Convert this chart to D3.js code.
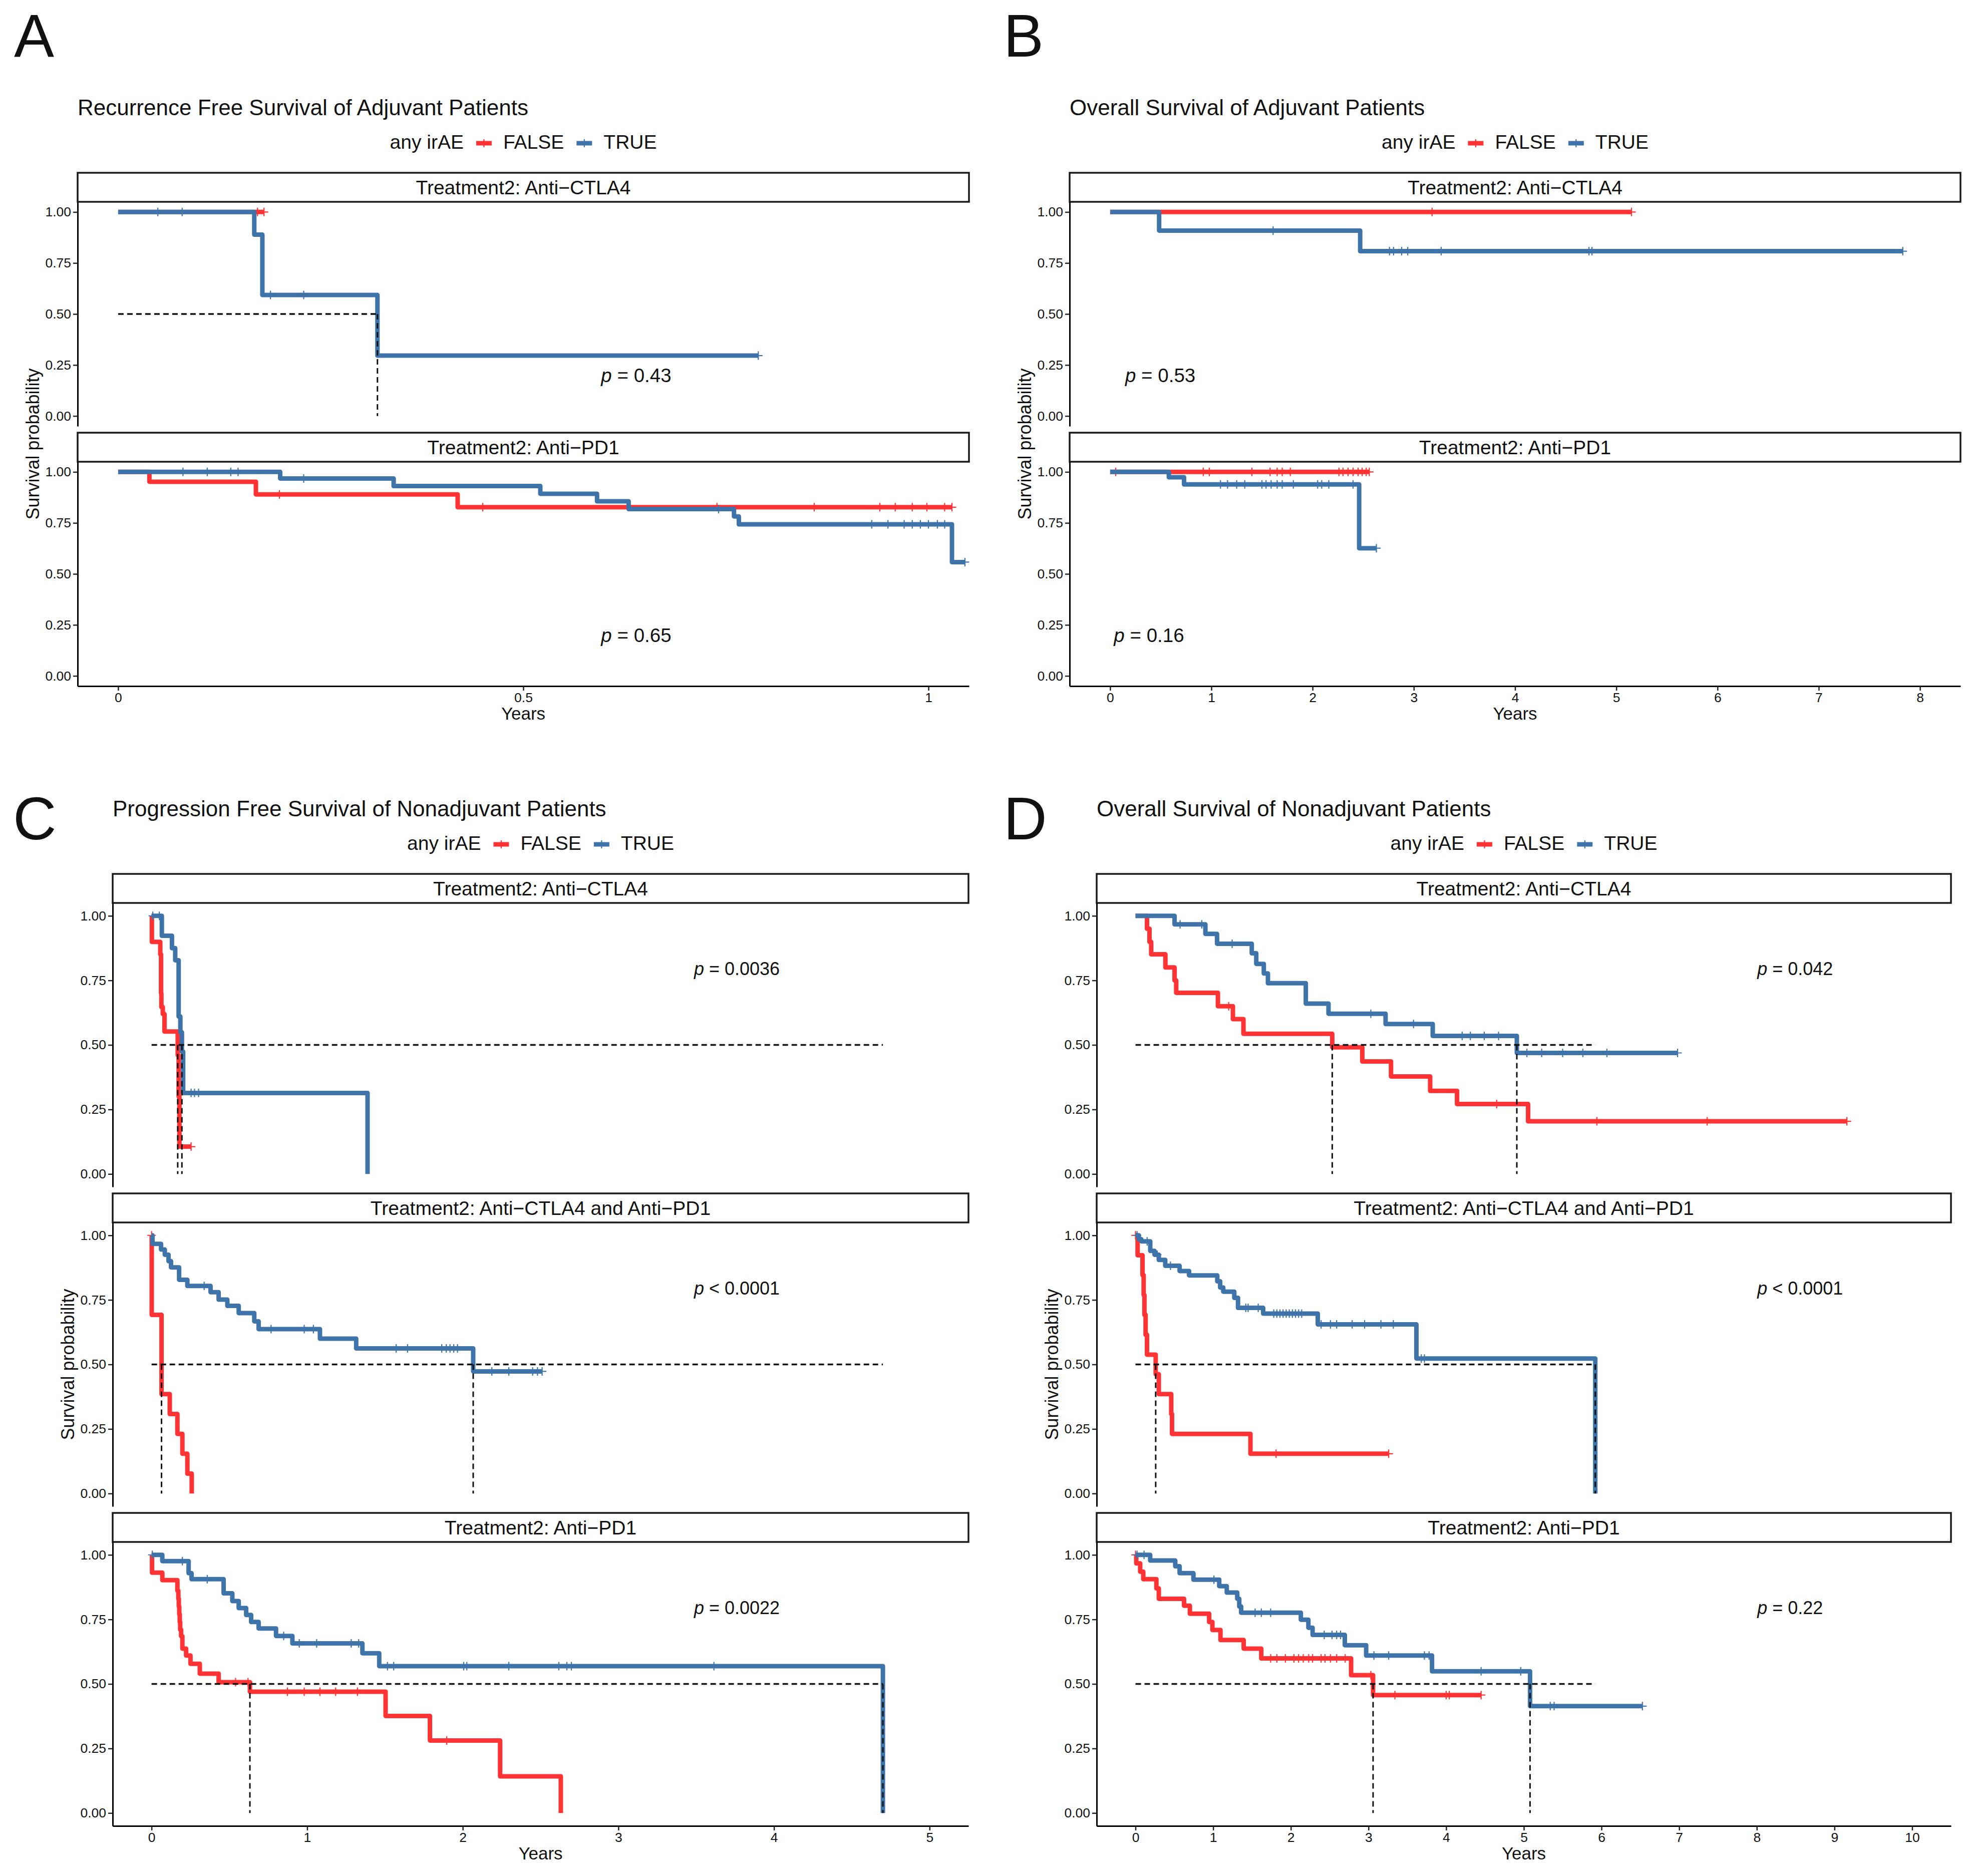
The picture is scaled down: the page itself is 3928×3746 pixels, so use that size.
<!DOCTYPE html>
<html>
<head>
<meta charset="utf-8">
<script src="https://cdn.jsdelivr.net/npm/d3@7"></script>
<style>
  body { margin: 0; background: #fff; }
  text { font-family: "Liberation Sans", Arial, Helvetica, sans-serif; fill: #111; }
</style>
</head>
<body>
<div id="chart"></div>
<script>
// Kaplan-Meier curves: steps are [years, survival], cens = censor times

// A: recurrence free survival, adjuvant
var rfsAdjCtla4FalseSteps = [[0, 1]];
var rfsAdjCtla4FalseCens = [0.172, 0.18];
var rfsAdjCtla4TrueSteps = [[0, 1], [0.168, 0.889], [0.178, 0.593], [0.32, 0.296]];
var rfsAdjCtla4TrueCens = [0.049, 0.079, 0.188, 0.229, 0.79];

var rfsAdjPd1FalseSteps = [[0, 1], [0.0386, 0.952], [0.170, 0.890], [0.419, 0.827]];
var rfsAdjPd1FalseCens = [0.199, 0.450, 0.739, 0.859, 0.940, 0.959, 0.980, 0.998, 1.020, 1.029];
var rfsAdjPd1TrueSteps = [[0, 1], [0.200, 0.968], [0.340, 0.931], [0.521, 0.893], [0.591, 0.856],
  [0.630, 0.818], [0.760, 0.782], [0.766, 0.743], [1.029, 0.558]];
var rfsAdjPd1TrueCens = [0.080, 0.110, 0.139, 0.148, 0.229, 0.741, 0.930, 0.950, 0.970, 0.980,
  0.990, 1.000, 1.011, 1.020, 1.045];

// B: overall survival, adjuvant
var osAdjCtla4FalseSteps = [[0, 1]];
var osAdjCtla4FalseCens = [3.18, 5.15];
var osAdjCtla4TrueSteps = [[0, 1], [0.484, 0.909], [2.47, 0.808]];
var osAdjCtla4TrueCens = [1.61, 2.76, 2.80, 2.88, 2.94, 3.27, 4.73, 4.76, 7.83];

var osAdjPd1FalseSteps = [[0, 1]];
var osAdjPd1FalseCens = [0.055, 0.92, 0.98, 1.40, 1.58, 1.65, 1.70, 1.78, 2.26, 2.30, 2.35,
  2.40, 2.45, 2.49, 2.53, 2.56];
var osAdjPd1TrueSteps = [[0, 1], [0.58, 0.974], [0.73, 0.939], [2.46, 0.626]];
var osAdjPd1TrueCens = [1.09, 1.16, 1.25, 1.33, 1.50, 1.54, 1.59, 1.65, 1.70, 1.81, 2.05, 2.09,
  2.16, 2.40, 2.63];

// C: progression free survival, nonadjuvant
var pfsNonCtla4FalseSteps = [[0, 1], [0.002, 0.899], [0.056, 0.851], [0.061, 0.70], [0.063, 0.647],
  [0.072, 0.62], [0.083, 0.552], [0.168, 0.46], [0.174, 0.30], [0.179, 0.106]];
var pfsNonCtla4FalseCens = [0.254];
var pfsNonCtla4TrueSteps = [[0, 1], [0.066, 0.923], [0.131, 0.875], [0.152, 0.828], [0.174, 0.61],
  [0.185, 0.549], [0.195, 0.474], [0.203, 0.314], [1.388, 0]];
var pfsNonCtla4TrueCens = [0.008, 0.05, 0.254, 0.276, 0.302];

var pfsNonComboFalseSteps = [[0, 1], [0.001, 0.692], [0.064, 0.385], [0.117, 0.308], [0.166, 0.231],
  [0.198, 0.154], [0.23, 0.077], [0.258, 0]];
var pfsNonComboFalseCens = [0];
var pfsNonComboTrueSteps = [[0, 1], [0.006, 0.967], [0.061, 0.945], [0.085, 0.925], [0.109, 0.90],
  [0.125, 0.876], [0.177, 0.828], [0.23, 0.804], [0.379, 0.78], [0.431, 0.751], [0.487, 0.727],
  [0.56, 0.699], [0.66, 0.667], [0.688, 0.637], [1.082, 0.600], [1.315, 0.562], [2.067, 0.473]];
var pfsNonComboTrueCens = [0.338, 0.768, 0.981, 1.04, 1.572, 1.645, 1.865, 1.894, 1.918, 1.942,
  1.966, 2.187, 2.296, 2.449, 2.48, 2.51];

var pfsNonPd1FalseSteps = [[0, 1], [0.003, 0.931], [0.069, 0.902], [0.166, 0.861], [0.172, 0.83],
  [0.175, 0.80], [0.178, 0.77], [0.181, 0.74], [0.184, 0.71], [0.19, 0.685], [0.198, 0.637],
  [0.222, 0.610], [0.25, 0.578], [0.31, 0.54], [0.431, 0.507], [0.632, 0.47], [1.504, 0.376],
  [1.789, 0.281], [2.24, 0.142], [2.63, 0]];
var pfsNonPd1FalseCens = [0.54, 0.62, 0.873, 0.981, 1.082, 1.183, 1.323, 1.897];
var pfsNonPd1TrueSteps = [[0, 1], [0.069, 0.976], [0.238, 0.929], [0.257, 0.906], [0.463, 0.851],
  [0.519, 0.821], [0.56, 0.794], [0.608, 0.767], [0.64, 0.74], [0.688, 0.715], [0.80, 0.686],
  [0.905, 0.657], [1.355, 0.619], [1.463, 0.569], [4.70, 0]];
var pfsNonPd1TrueCens = [0.005, 0.198, 0.358, 0.849, 0.949, 1.061, 1.283, 1.331, 1.516, 1.556,
  2.006, 2.026, 2.296, 2.617, 2.669, 2.698, 3.614];

// D: overall survival, nonadjuvant
var osNonCtla4FalseSteps = [[0, 1], [0.148, 0.950], [0.18, 0.899], [0.202, 0.851], [0.385, 0.80],
  [0.503, 0.75], [0.524, 0.702], [1.061, 0.65], [1.254, 0.60], [1.39, 0.543], [2.533, 0.491],
  [2.92, 0.436], [3.29, 0.378], [3.794, 0.322], [4.14, 0.271], [5.055, 0.204]];
var osNonCtla4FalseCens = [1.20, 4.65, 5.94, 7.36, 9.16];
var osNonCtla4TrueSteps = [[0, 1], [0.503, 0.967], [0.90, 0.930], [1.05, 0.892], [1.497, 0.855],
  [1.555, 0.814], [1.652, 0.777], [1.705, 0.739], [2.193, 0.660], [2.485, 0.621], [3.22, 0.581],
  [3.827, 0.535], [4.91, 0.469]];
var osNonCtla4TrueCens = [0.574, 0.853, 1.244, 3.03, 3.58, 4.206, 4.312, 4.49, 4.675, 5.04, 5.23,
  5.50, 5.76, 6.07, 6.98];

var osNonComboFalseSteps = [[0, 1], [0.027, 0.923], [0.09, 0.846], [0.105, 0.769], [0.115, 0.692],
  [0.13, 0.615], [0.148, 0.538], [0.26, 0.462], [0.30, 0.385], [0.46, 0.308], [0.47, 0.231],
  [1.48, 0.154]];
var osNonComboFalseCens = [0, 1.81, 3.26];
var osNonComboTrueSteps = [[0, 1], [0.043, 0.985], [0.075, 0.977], [0.19, 0.94], [0.245, 0.925],
  [0.30, 0.905], [0.383, 0.882], [0.568, 0.862], [0.69, 0.845], [1.053, 0.822], [1.09, 0.798],
  [1.13, 0.782], [1.272, 0.758], [1.32, 0.719], [1.644, 0.697], [2.347, 0.655], [3.617, 0.523],
  [5.92, 0]];
var osNonComboTrueCens = [0.02, 0.15, 0.28, 0.45, 1.42, 1.45, 1.58, 1.78, 1.82, 1.86, 1.90, 1.94,
  1.98, 2.02, 2.06, 2.10, 2.14, 2.39, 2.51, 2.59, 2.79, 2.95, 3.16, 3.32, 3.68, 3.72];

var osNonPd1FalseSteps = [[0, 1], [0.01, 0.967], [0.06, 0.935], [0.10, 0.906], [0.269, 0.87],
  [0.30, 0.83], [0.625, 0.803], [0.70, 0.772], [0.948, 0.74], [0.99, 0.709], [1.094, 0.67],
  [1.393, 0.637], [1.619, 0.599], [2.776, 0.534], [3.059, 0.457]];
var osNonPd1FalseCens = [0, 1.74, 1.82, 1.93, 2.04, 2.10, 2.16, 2.23, 2.28, 2.39, 2.44, 2.51,
  2.59, 2.70, 3.03, 3.34, 4.00, 4.04, 4.45];
var osNonPd1TrueSteps = [[0, 1], [0.189, 0.978], [0.512, 0.956], [0.568, 0.929], [0.746, 0.904],
  [1.078, 0.879], [1.175, 0.854], [1.31, 0.83], [1.336, 0.80], [1.36, 0.776], [2.129, 0.749],
  [2.226, 0.718], [2.28, 0.69], [2.695, 0.65], [2.97, 0.61], [3.818, 0.549], [5.08, 0.414]];
var osNonPd1TrueCens = [0.02, 0.11, 1.01, 1.54, 1.62, 1.74, 2.43, 2.53, 2.59, 2.64, 3.07, 3.26,
  3.72, 3.78, 4.45, 4.96, 5.34, 5.39, 6.527];

// labels and ticks
var groups = ["FALSE", "TRUE"];
var legendTitle = "any irAE";
var stripsAdj = ["Treatment2: Anti\u2212CTLA4", "Treatment2: Anti\u2212PD1"];
var stripsNon = ["Treatment2: Anti\u2212CTLA4", "Treatment2: Anti\u2212CTLA4 and Anti\u2212PD1",
  "Treatment2: Anti\u2212PD1"];
var pvalsA = ["= 0.43", "= 0.65"];
var pvalsB = ["= 0.53", "= 0.16"];
var pvalsC = ["= 0.0036", "< 0.0001", "= 0.0022"];
var pvalsD = ["= 0.042", "< 0.0001", "= 0.22"];
var yTicks = [0, 0.25, 0.5, 0.75, 1];
var yTickLabels = ["0.00", "0.25", "0.50", "0.75", "1.00"];
var xTicksA = [0, 0.5, 1];
var xTickLabelsA = ["0", "0.5", "1"];
var xTicksB = [0, 1, 2, 3, 4, 5, 6, 7, 8];
var xTicksC = [0, 1, 2, 3, 4, 5];
var xTicksD = [0, 1, 2, 3, 4, 5, 6, 7, 8, 9, 10];

var COLORS = ["#FF3333", "#3E74A9"];

var svg = d3.select("#chart")
  .append("svg")
  .attr("width", 3928)
  .attr("height", 3746);

svg.append("rect").attr("width", 3928).attr("height", 3746).attr("fill", "#fff");

// layout of the four figures
var figures = [
  {
    letter: "A", letterX: 28, letterY: 113,
    title: "Recurrence Free Survival of Adjuvant Patients",
    left: 155, right: 1935, top: 345, panelH: 448,
    xDomain: [-0.05, 1.05], xTicks: xTicksA, xLabels: xTickLabelsA,
    pvalSize: 38.5,
    facets: [
      { strip: stripsAdj[0], pval: pvalsA[0], pvalAt: [0.596, 0.167],
        curves: [{ steps: rfsAdjCtla4FalseSteps, cens: rfsAdjCtla4FalseCens },
                 { steps: rfsAdjCtla4TrueSteps, cens: rfsAdjCtla4TrueCens }] },
      { strip: stripsAdj[1], pval: pvalsA[1], pvalAt: [0.596, 0.167],
        curves: [{ steps: rfsAdjPd1FalseSteps, cens: rfsAdjPd1FalseCens },
                 { steps: rfsAdjPd1TrueSteps, cens: rfsAdjPd1TrueCens }] }
    ]
  },
  {
    letter: "B", letterX: 2004, letterY: 113,
    title: "Overall Survival of Adjuvant Patients",
    left: 2136, right: 3915, top: 345, panelH: 448,
    xDomain: [-0.4, 8.4], xTicks: xTicksB, xLabels: null,
    pvalSize: 38.5,
    facets: [
      { strip: stripsAdj[0], pval: pvalsB[0], pvalAt: [0.149, 0.167],
        curves: [{ steps: osAdjCtla4FalseSteps, cens: osAdjCtla4FalseCens },
                 { steps: osAdjCtla4TrueSteps, cens: osAdjCtla4TrueCens }] },
      { strip: stripsAdj[1], pval: pvalsB[1], pvalAt: [0.037, 0.167],
        curves: [{ steps: osAdjPd1FalseSteps, cens: osAdjPd1FalseCens },
                 { steps: osAdjPd1TrueSteps, cens: osAdjPd1TrueCens }] }
    ]
  },
  {
    letter: "C", letterX: 26, letterY: 1676,
    title: "Progression Free Survival of Nonadjuvant Patients",
    left: 225, right: 1934, top: 1745, panelH: 567,
    xDomain: [-0.25, 5.25], xTicks: xTicksC, xLabels: null,
    pvalSize: 36,
    facets: [
      { strip: stripsNon[0], pval: pvalsC[0], pvalAt: [3.486, 0.771],
        curves: [{ steps: pfsNonCtla4FalseSteps, cens: pfsNonCtla4FalseCens },
                 { steps: pfsNonCtla4TrueSteps, cens: pfsNonCtla4TrueCens }] },
      { strip: stripsNon[1], pval: pvalsC[1], pvalAt: [3.486, 0.771],
        curves: [{ steps: pfsNonComboFalseSteps, cens: pfsNonComboFalseCens },
                 { steps: pfsNonComboTrueSteps, cens: pfsNonComboTrueCens }] },
      { strip: stripsNon[2], pval: pvalsC[2], pvalAt: [3.486, 0.771],
        curves: [{ steps: pfsNonPd1FalseSteps, cens: pfsNonPd1FalseCens },
                 { steps: pfsNonPd1TrueSteps, cens: pfsNonPd1TrueCens }] }
    ]
  },
  {
    letter: "D", letterX: 2004, letterY: 1676,
    title: "Overall Survival of Nonadjuvant Patients",
    left: 2190, right: 3896, top: 1745, panelH: 567,
    xDomain: [-0.5, 10.5], xTicks: xTicksD, xLabels: null,
    pvalSize: 36,
    facets: [
      { strip: stripsNon[0], pval: pvalsD[0], pvalAt: [8.006, 0.771],
        curves: [{ steps: osNonCtla4FalseSteps, cens: osNonCtla4FalseCens },
                 { steps: osNonCtla4TrueSteps, cens: osNonCtla4TrueCens }] },
      { strip: stripsNon[1], pval: pvalsD[1], pvalAt: [8.006, 0.771],
        curves: [{ steps: osNonComboFalseSteps, cens: osNonComboFalseCens },
                 { steps: osNonComboTrueSteps, cens: osNonComboTrueCens }] },
      { strip: stripsNon[2], pval: pvalsD[2], pvalAt: [8.006, 0.771],
        curves: [{ steps: osNonPd1FalseSteps, cens: osNonPd1FalseCens },
                 { steps: osNonPd1TrueSteps, cens: osNonPd1TrueCens }] }
    ]
  }
];

var STRIP_H = 58, GAP = 13;

// survival at time t on a step curve
function survAt(steps, t) {
  var s = steps[0][1];
  steps.forEach(function(d) { if (d[0] <= t) s = d[1]; });
  return s;
}

// first time survival falls to 0.5 or below
function medianOf(steps) {
  for (var i = 0; i < steps.length; i++) {
    if (steps[i][1] <= 0.5) return steps[i][0];
  }
  return null;
}

function plusPath(px, py, r) {
  return "M" + (px - r) + "," + py + "H" + (px + r) + "M" + px + "," + (py - r) + "V" + (py + r);
}

function drawLegend(g, fig) {
  var lg = g.append("g");
  var cx = 0;
  var t = lg.append("text").attr("x", cx).attr("y", 0).style("font-size", "39px").text(legendTitle);
  cx += t.node().getComputedTextLength() + 25;
  groups.forEach(function(name, i) {
    lg.append("line")
      .attr("x1", cx).attr("x2", cx + 31).attr("y1", -11).attr("y2", -11)
      .attr("stroke", COLORS[i]).attr("stroke-width", 9);
    lg.append("path")
      .attr("d", plusPath(cx + 15.5, -11, 8))
      .attr("stroke", COLORS[i]).attr("stroke-width", 2.2);
    cx += 31 + 23;
    var lt = lg.append("text").attr("x", cx).attr("y", 0).style("font-size", "39px").text(name);
    cx += lt.node().getComputedTextLength() + 25;
  });
  var w = cx - 25;
  lg.attr("transform", "translate(" + ((fig.left + fig.right) / 2 - w / 2) + "," + (fig.top - 48) + ")");
}

function styleAxis(a) {
  a.attr("font-family", "'Liberation Sans', Arial, sans-serif").attr("font-size", 26.5);
  a.select(".domain").attr("stroke", "#000").attr("stroke-width", 3);
  a.selectAll(".tick line").attr("stroke", "#222").attr("stroke-width", 2.5);
  a.selectAll(".tick text").attr("fill", "#1a1a1a");
}

var stepLine = d3.line().curve(d3.curveStepAfter);

function drawFigure(fig) {
  var g = svg.append("g");

  g.append("text")
    .attr("x", fig.letterX).attr("y", fig.letterY)
    .style("font-size", "120px")
    .text(fig.letter);

  g.append("text")
    .attr("x", fig.left).attr("y", fig.top - 115)
    .style("font-size", "44px")
    .text(fig.title);

  drawLegend(g, fig);

  var x = d3.scaleLinear().domain(fig.xDomain).range([fig.left, fig.right]);

  // horizontal median line runs to the largest median of the figure
  var allMedians = [];
  fig.facets.forEach(function(f) {
    f.curves.forEach(function(c) {
      var m = medianOf(c.steps);
      if (m !== null) allMedians.push(m);
    });
  });
  var hEnd = d3.max(allMedians);

  var lastBottom = 0;
  fig.facets.forEach(function(f, i) {
    var stripTop = fig.top + i * (STRIP_H + fig.panelH + GAP);
    var pTop = stripTop + STRIP_H;
    var pBot = pTop + fig.panelH;
    lastBottom = pBot;
    var y = d3.scaleLinear().domain([-0.05, 1.05]).range([pBot, pTop]);

    // strip
    g.append("rect")
      .attr("x", fig.left).attr("y", stripTop)
      .attr("width", fig.right - fig.left).attr("height", STRIP_H)
      .attr("fill", "#fff").attr("stroke", "#1a1a1a").attr("stroke-width", 3.5);
    g.append("text")
      .attr("x", (fig.left + fig.right) / 2).attr("y", stripTop + STRIP_H / 2 + 14)
      .attr("text-anchor", "middle")
      .style("font-size", "39px")
      .text(f.strip);

    // y axis
    var yAxis = g.append("g")
      .attr("transform", "translate(" + fig.left + ",0)")
      .call(d3.axisLeft(y).tickValues(yTicks)
        .tickFormat(function(d, k) { return yTickLabels[k]; })
        .tickSize(9).tickSizeOuter(0).tickPadding(4));
    styleAxis(yAxis);

    // curves, FALSE first so TRUE sits on top
    f.curves.forEach(function(c, k) {
      var end = Math.max(c.steps[c.steps.length - 1][0], d3.max(c.cens) || 0);
      var pts = c.steps.map(function(d) { return [x(d[0]), y(d[1])]; });
      pts.push([x(end), y(c.steps[c.steps.length - 1][1])]);
      g.append("path")
        .attr("d", stepLine(pts))
        .attr("fill", "none")
        .attr("stroke", COLORS[k])
        .attr("stroke-width", 9)
        .attr("stroke-linejoin", "round");

      g.selectAll(null)
        .data(c.cens)
        .enter()
        .append("path")
        .attr("d", function(t) { return plusPath(x(t), y(survAt(c.steps, t)), 8.5); })
        .attr("stroke", COLORS[k])
        .attr("stroke-width", 2.2);
    });

    // median lines
    var panelMedians = f.curves.map(function(c) { return medianOf(c.steps); })
      .filter(function(m) { return m !== null; });
    if (panelMedians.length) {
      g.append("line")
        .attr("x1", x(0)).attr("x2", x(hEnd))
        .attr("y1", y(0.5)).attr("y2", y(0.5))
        .attr("stroke", "#111").attr("stroke-width", 3.5)
        .attr("stroke-dasharray", "11,7");
      panelMedians.forEach(function(m) {
        g.append("line")
          .attr("x1", x(m)).attr("x2", x(m))
          .attr("y1", y(0.5)).attr("y2", y(0))
          .attr("stroke", "#111").attr("stroke-width", 3)
          .attr("stroke-dasharray", "11,7");
      });
    }

    // p value
    var pt = g.append("text")
      .attr("x", x(f.pvalAt[0])).attr("y", y(f.pvalAt[1]))
      .style("font-size", fig.pvalSize + "px");
    pt.append("tspan").style("font-style", "italic").text("p");
    pt.append("tspan").text(" " + f.pval);
  });

  // x axis on the bottom panel only
  var xAxis = d3.axisBottom(x).tickValues(fig.xTicks).tickSize(9).tickSizeOuter(0).tickPadding(4);
  if (fig.xLabels) {
    xAxis.tickFormat(function(d, k) { return fig.xLabels[k]; });
  } else {
    xAxis.tickFormat(d3.format("d"));
  }
  var xa = g.append("g")
    .attr("transform", "translate(0," + lastBottom + ")")
    .call(xAxis);
  styleAxis(xa);

  g.append("text")
    .attr("x", (fig.left + fig.right) / 2).attr("y", lastBottom + 67)
    .attr("text-anchor", "middle")
    .style("font-size", "35px")
    .text("Years");

  var yMid = (fig.top + STRIP_H + lastBottom) / 2;
  g.append("text")
    .attr("transform", "translate(" + (fig.left - 77) + "," + yMid + ") rotate(-90)")
    .attr("text-anchor", "middle")
    .style("font-size", "36px")
    .text("Survival probability");
}

figures.forEach(drawFigure);
</script>
</body>
</html>
